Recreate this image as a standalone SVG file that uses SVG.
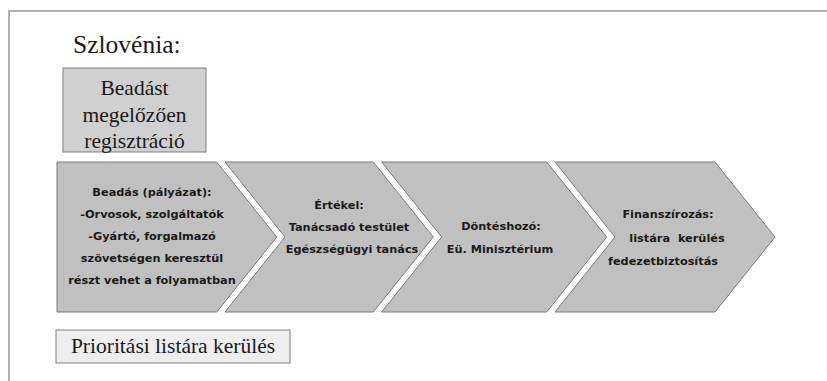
<svg xmlns="http://www.w3.org/2000/svg" width="827" height="381" viewBox="0 0 827 381">
<style>
.frame{fill:none;stroke:#b0b0b0;stroke-width:2}
.box{stroke:#808080;stroke-width:1}
.chev{fill:#c0c0c0;stroke:#7a7a7a;stroke-width:1}
.serif{font-family:"Liberation Serif","Times New Roman",serif;fill:#1a1a1a}
.bold{font-family:"DejaVu Sans",Verdana,sans-serif;font-weight:bold;font-size:11.3px;fill:#1a1a1a;text-anchor:middle}
</style>
<rect width="827" height="381" fill="#ffffff"/>
<path class="frame" d="M9 381 V11 H827"/>
<text class="serif" x="73" y="53" font-size="25.5">Szlovénia:</text>
<g id="pre-registration">
<rect class="box" x="63" y="68" width="143" height="84" fill="#d0d0d0"/>
<text class="serif" font-size="21.5" text-anchor="middle"><tspan x="134.5" y="95">Beadást</tspan><tspan x="134.5" y="122">megelőzően</tspan><tspan x="134.5" y="148">regisztráció</tspan></text>
</g>
<g id="step1">
<polygon class="chev" points="57,162 216.7,162 276.7,237 216.7,312 57,312"/>
<text class="bold"><tspan x="152" y="196">Beadás (pályázat):</tspan><tspan x="152" y="218">-Orvosok, szolgáltatók</tspan><tspan x="152" y="240">-Gyártó, forgalmazó</tspan><tspan x="152" y="262">szövetségen keresztül</tspan><tspan x="152" y="284">részt vehet a folyamatban</tspan></text>
</g>
<g id="step2">
<polygon class="chev" points="225,162 373.3,162 433.3,237 373.3,312 225,312 285,237"/>
<text class="bold"><tspan x="339" y="209">Értékel:</tspan><tspan x="349" y="231">Tanácsadó testület</tspan><tspan x="352" y="253">Egészségügyi tanács</tspan></text>
</g>
<g id="step3">
<polygon class="chev" points="381.7,162 546.7,162 606.7,237 546.7,312 381.7,312 441.7,237"/>
<text class="bold"><tspan x="501" y="230">Döntéshozó:</tspan><tspan x="500" y="253">Eü. Minisztérium</tspan></text>
</g>
<g id="step4">
<polygon class="chev" points="555,162 715,162 775,237 715,312 555,312 615,237"/>
<text class="bold"><tspan x="668" y="218">Finanszírozás:</tspan><tspan x="677" y="242" xml:space="preserve">listára  kerülés</tspan><tspan x="663" y="265">fedezetbiztosítás</tspan></text>
</g>
<g id="priority">
<rect class="box" x="56" y="330" width="234" height="33" fill="#eeeeee"/>
<text class="serif" x="173" y="353" font-size="21.5" text-anchor="middle">Prioritási listára kerülés</text>
</g>
<g id="connectors"/>
</svg>
